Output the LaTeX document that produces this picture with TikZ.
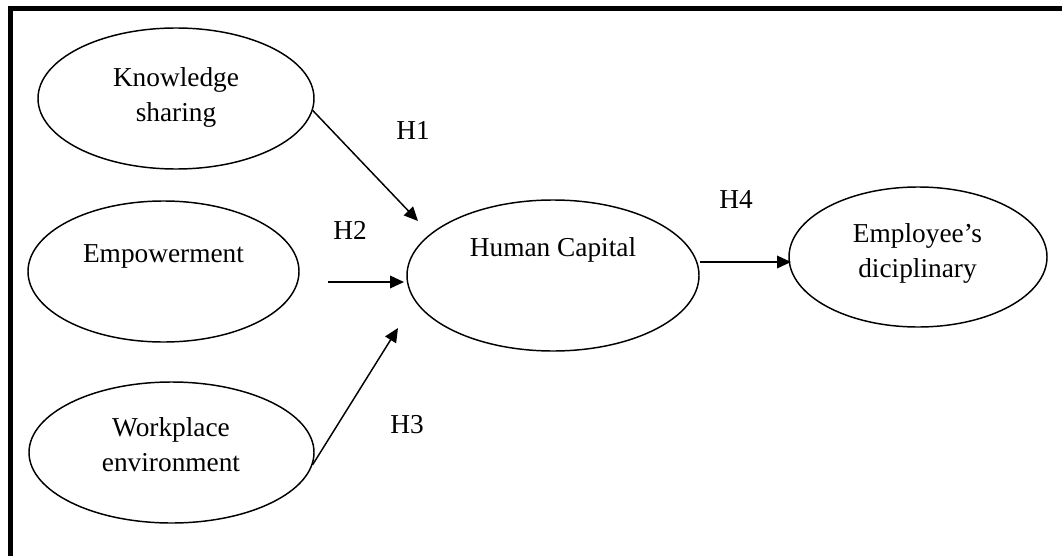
\documentclass[tikz,border=0pt]{standalone}
\usepackage{fontspec}
\setmainfont{Liberation Serif}
\usetikzlibrary{shapes.geometric,arrows.meta}
\begin{document}
\begin{tikzpicture}[x=0.75pt,y=-0.75pt,
  ell/.style={ellipse,draw,line width=1.1pt,inner sep=0pt},
  txt/.style={font=\fontsize{20.5}{26.25}\selectfont,inner sep=0pt,align=center},
  arr/.style={line width=1.1pt,-{Triangle[length=10.5pt,width=9.5pt]}},
  frame/.style={line width=3.75pt}]
\useasboundingbox (0,0) rectangle (1062,556);
% frame (top and left edges)
\coordinate (ftl) at (10.5,8.5);
\coordinate (ftr) at (1062,8.5);
\coordinate (fbl) at (10.5,556);
\draw[frame] (ftr) -- (ftl) -- (fbl);
% ellipses
\node[ell,minimum width=207pt,minimum height=105.75pt] (ks) at (176,98.5) {};
\node[ell,minimum width=203.25pt,minimum height=105.75pt] (emp) at (163.5,271.5) {};
\node[ell,minimum width=213.75pt,minimum height=105.75pt] (we) at (171.5,452.5) {};
\node[ell,minimum width=219pt,minimum height=113.25pt] (hc) at (553,275.5) {};
\node[ell,minimum width=193.5pt,minimum height=105pt] (ed) at (918,257) {};
% texts
\node[txt] (ksT) at (176,97.5) {Knowledge\\sharing};
\node[txt,anchor=base] (empT) at (163.5,262) {Empowerment};
\node[txt] (weT) at (171,444.7) {Workplace\\environment};
\node[txt,anchor=base] (hcT) at (553,256) {Human Capital};
\node[txt] (edT) at (917.5,253) {Employee’s\\diciplinary};
% hypothesis labels
\node[txt,anchor=base] (h1) at (413,139) {H1};
\node[txt,anchor=base] (h2) at (350,239) {H2};
\node[txt,anchor=base] (h3) at (407,433) {H3};
\node[txt,anchor=base] (h4) at (736,208) {H4};
% connector free ends
\coordinate (h1e) at (418,221);
\coordinate (h2s) at (328,282);
\coordinate (h2e) at (404,282);
\coordinate (h3e) at (398,328);
\coordinate (h4e) at (791,262);
% connectors
\draw[arr] (ks.-5) -- (h1e);
\draw[arr] (h2s) -- (h2e);
\draw[arr] (we.-5) -- (h3e);
\draw[arr] (hc.east |- h4e) -- (h4e);
\end{tikzpicture}
\end{document}
